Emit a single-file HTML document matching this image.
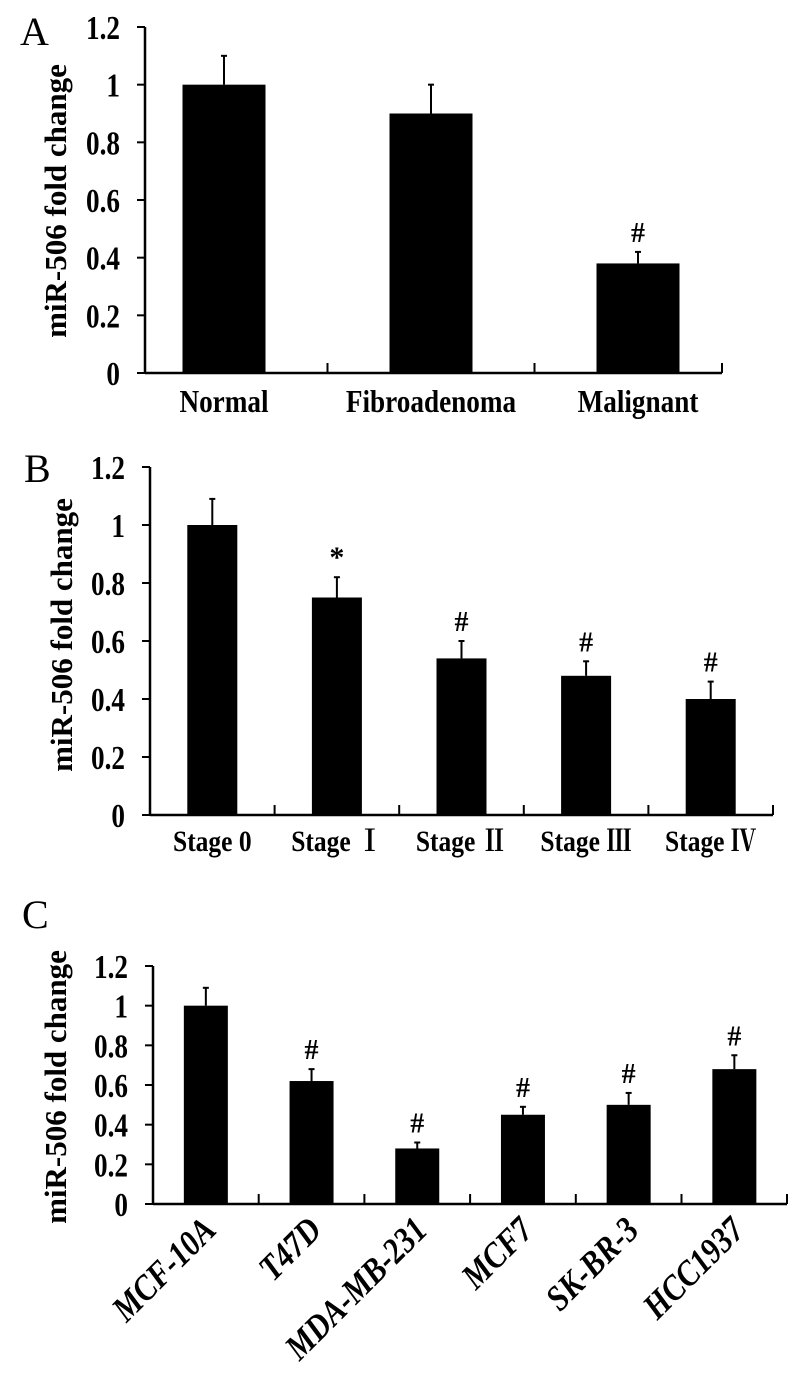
<!DOCTYPE html>
<html><head><meta charset="utf-8"><style>
html,body{margin:0;padding:0;background:#fff;}
svg{display:block;font-family:"Liberation Serif","Noto Serif CJK SC",serif;}
</style></head><body>
<svg id="chart" width="810" height="1392" viewBox="0 0 810 1392" xmlns="http://www.w3.org/2000/svg">
<text x="20" y="45" font-size="40">A</text>
<text x="24" y="482" font-size="40">B</text>
<text x="22" y="928" font-size="40">C</text>
</svg>
<script>
const yTicks = [0, 0.2, 0.4, 0.6, 0.8, 1, 1.2];
const yTickLabels = ["0", "0.2", "0.4", "0.6", "0.8", "1", "1.2"];

const catsA = ["Normal", "Fibroadenoma", "Malignant"];
const valsA = [1.0, 0.9, 0.38];
const errA = [1.1, 1.0, 0.42];
const markA = ["", "", "#"];

const catsB = ["Stage 0", "Stage Ⅰ", "Stage Ⅱ", "Stage Ⅲ", "Stage Ⅳ"];
const valsB = [1.0, 0.75, 0.54, 0.48, 0.40];
const errB = [1.09, 0.82, 0.60, 0.53, 0.46];
const markB = ["", "*", "#", "#", "#"];

const catsC = ["MCF-10A", "T47D", "MDA-MB-231", "MCF7", "SK-BR-3", "HCC1937"];
const valsC = [1.0, 0.62, 0.28, 0.45, 0.50, 0.68];
const errC = [1.09, 0.68, 0.31, 0.49, 0.56, 0.75];
const markC = ["", "#", "#", "#", "#", "#"];

const svg = document.getElementById('chart');
const NS = 'http://www.w3.org/2000/svg';
function mk(tag, attrs, txt) {
  const e = document.createElementNS(NS, tag);
  for (const k in attrs) e.setAttribute(k, attrs[k]);
  if (txt !== undefined) e.textContent = txt;
  svg.appendChild(e);
  return e;
}

function panel(p) {
  const y = v => p.y0 - (v / 1.2) * (p.y0 - p.y1);
  const bx = i => p.bandStart + p.step * (i + 0.5);
  let e = mk('line', {x1: p.ax, y1: p.y1, x2: p.ax, y2: p.y0, stroke: '#000', 'stroke-width': 2.5});
  
  
  e = mk('line', {x1: p.ax, y1: p.y0, x2: p.axEnd, y2: p.y0, stroke: '#000', 'stroke-width': 2.5});
  
  
  yTicks.forEach((t, i) => {
    let l = mk('line', {x1: p.ax - 8, y1: y(t), x2: p.ax, y2: y(t), stroke: '#000', 'stroke-width': 2});
    
    
    let tx = mk('text', {x: 0, y: 0, 'font-size': 34, 'font-weight': 'bold', 'text-anchor': 'end', transform: 'translate(' + (p.ax - 25) + ' ' + (y(t) + 12) + ') scale(0.8 1)'}, yTickLabels[i]);
    
    
  });
  for (let k = 1; k <= p.cats.length; k++) {
    const xx = Math.min(p.bandStart + p.step * k, p.axEnd);
    let l = mk('line', {x1: xx, y1: p.y0 - 10, x2: xx, y2: p.y0, stroke: '#000', 'stroke-width': 2});
    
    
  }
  p.cats.forEach((c, i) => {
    const cx = bx(i);
    const ey = y(p.err[i]);
    let el = mk('line', {x1: cx, y1: ey, x2: cx, y2: y(p.vals[i]), stroke: '#000', 'stroke-width': 2});
    
    
    el = mk('line', {x1: cx - 3, y1: ey, x2: cx + 3, y2: ey, stroke: '#000', 'stroke-width': 2});
    
    
    let r = mk('rect', {x: cx - p.bw / 2, y: y(p.vals[i]), width: p.bw, height: p.y0 - y(p.vals[i]), fill: '#000'});
    
    
    if (p.marks[i]) {
      let m = mk('text', {x: cx, y: ey - 10, 'font-size': p.marks[i] === '*' ? 30 : 28, 'font-weight': 'bold', 'text-anchor': 'middle'}, p.marks[i]);
      
      
    }
    let t;
    if (p.rot) {
      t = mk('text', {x: 0, y: 0, 'font-size': 36, 'font-weight': 'bold', 'font-style': 'italic', 'text-anchor': 'end', transform: 'translate(' + (cx + 12) + ' ' + p.labY + ') rotate(-45) scale(0.85 1)'}, c);
    } else {
      t = mk('text', {x: 0, y: 0, 'font-size': p.labSize, 'font-weight': 'bold', 'text-anchor': 'middle', transform: 'translate(' + cx + ' ' + p.labY + ') scale(0.85 1)'}, c);
    }
    
    
  });
  let yt = mk('text', {x: 0, y: 0, 'font-size': 31, 'font-weight': 'bold', 'text-anchor': 'middle', transform: 'translate(' + p.titleX + ' ' + p.titleY + ') rotate(-90)'}, 'miR-506 fold change');
  
  
}

panel({id: 'a', cats: catsA, vals: valsA, err: errA, marks: markA, ax: 145, axEnd: 722, y0: 373, y1: 27,
  bandStart: 120.5, step: 207, bw: 83, labY: 412, labSize: 32, titleX: 66, titleY: 201});
panel({id: 'b', cats: catsB, vals: valsB, err: errB, marks: markB, ax: 150, axEnd: 773, y0: 815, y1: 467,
  bandStart: 150, step: 124.6, bw: 50, labY: 851, labSize: 30, titleX: 72, titleY: 635});
panel({id: 'c', cats: catsC, vals: valsC, err: errC, marks: markC, ax: 153, axEnd: 787, y0: 1204, y1: 966,
  bandStart: 153, step: 105.7, bw: 44, labY: 1232, rot: true, titleX: 66, titleY: 1087});
</script>
</body></html>
